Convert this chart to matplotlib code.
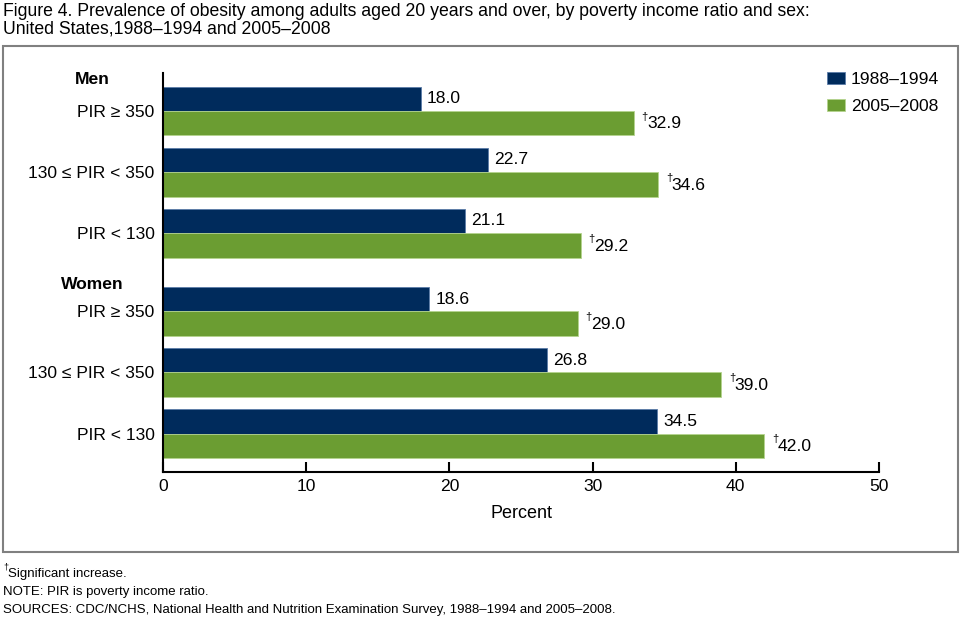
"""
Obesity prevalence by poverty income ratio and sex, horizontal bar chart.
"""

import matplotlib
matplotlib.use("Agg")
import matplotlib.pyplot as plt
import matplotlib.transforms as mtransforms
from matplotlib.patches import Rectangle

plt.rcParams["font.family"] = ["Liberation Sans", "DejaVu Sans"]

groups = ["PIR ≥ 350", "130 ≤ PIR < 350", "PIR < 130"]
sexes = ["Men", "Women"]
periods = ["1988–1994", "2005–2008"]

men_early = [18.0, 22.7, 21.1]
men_late = [32.9, 34.6, 29.2]
women_early = [18.6, 26.8, 34.5]
women_late = [29.0, 39.0, 42.0]

navy = "#002B5C"
green = "#6B9D32"
fs = 12.6

fig = plt.figure(figsize=(9.6, 6.24), dpi=100)
ax = fig.add_axes([163 / 960, 1 - 472 / 624, 716 / 960, 399 / 624])

# group centres: men 0..2, women shifted down a little extra
centres = [0, 1, 2, 3.28, 4.28, 5.28]
early = men_early + women_early
late = men_late + women_late
h = 0.4

b1 = ax.barh([c - h / 2 for c in centres], early, height=h, color=navy,
             edgecolor="#5A7BA8", linewidth=0.6, label=periods[0])
b2 = ax.barh([c + h / 2 for c in centres], late, height=h, color=green,
             edgecolor="#B5D48E", linewidth=0.6, label=periods[1])

for c, v in zip(centres, early):
    ax.annotate(f"{v:.1f}", (v, c - h / 2), xytext=(4.3, 0), textcoords="offset points",
                va="center", ha="left", fontsize=fs)
for c, v in zip(centres, late):
    ax.annotate("†", (v, c + h / 2), xytext=(5.3, 4.5), textcoords="offset points",
                va="center", ha="left", fontsize=8)
    ax.annotate(f"{v:.1f}", (v, c + h / 2), xytext=(9.2, -0.5), textcoords="offset points",
                va="center", ha="left", fontsize=fs)

ax.set_xlim(0, 50)
ax.set_ylim(5.91, -0.623)
ax.set_yticks(centres)
ax.set_yticklabels(groups * 2, fontsize=fs)
ax.set_xticks([0, 10, 20, 30, 40, 50])
ax.tick_params(axis="y", length=0, pad=6)
ax.tick_params(axis="x", direction="in", length=7, width=1.5, labelsize=fs, pad=5)
for s in ["top", "right"]:
    ax.spines[s].set_visible(False)
for s in ["left", "bottom"]:
    ax.spines[s].set_linewidth(1.5)
ax.set_xlabel("Percent", fontsize=13, labelpad=8)

trans = mtransforms.blended_transform_factory(fig.transFigure, ax.transData)
ax.text(92 / 960, -0.51, sexes[0], transform=trans, ha="center", va="center",
        fontsize=fs, fontweight="bold")
ax.text(92 / 960, 3.28 - 0.44, sexes[1], transform=trans, ha="center", va="center",
        fontsize=fs, fontweight="bold")

fig.legend(handles=[b1, b2], loc="upper left", bbox_to_anchor=(827 / 960, 1 - 72 / 624),
           frameon=False, fontsize=fs, handlelength=1.05, handleheight=0.65,
           handletextpad=0.3, labelspacing=0.7, borderpad=0, borderaxespad=0)

# outer frame
fig.patches.append(Rectangle((3 / 960, 1 - 552 / 624), 955 / 960, 506 / 624,
                             transform=fig.transFigure, fill=False,
                             edgecolor="#808080", linewidth=1.5))

fig.text(3 / 960, 1 - 16 / 624,
         "Figure 4. Prevalence of obesity among adults aged 20 years and over, "
         "by poverty income ratio and sex:",
         ha="left", va="baseline", fontsize=12.7)
fig.text(3 / 960, 1 - 33 / 624, "United States,1988–1994 and 2005–2008",
         ha="left", va="baseline", fontsize=12.7)

fig.text(3 / 960, 1 - 569 / 624, "†", fontsize=6.5, va="baseline", ha="left")
fig.text(8 / 960, 1 - 577 / 624, "Significant increase.", fontsize=9.5,
         va="baseline", ha="left")
fig.text(3 / 960, 1 - 595 / 624, "NOTE: PIR is poverty income ratio.", fontsize=9.5,
         va="baseline", ha="left")
fig.text(3 / 960, 1 - 613 / 624,
         "SOURCES: CDC/NCHS, National Health and Nutrition Examination Survey, "
         "1988–1994 and 2005–2008.", fontsize=9.5, va="baseline", ha="left")

fig.savefig("out.png", dpi=100)
